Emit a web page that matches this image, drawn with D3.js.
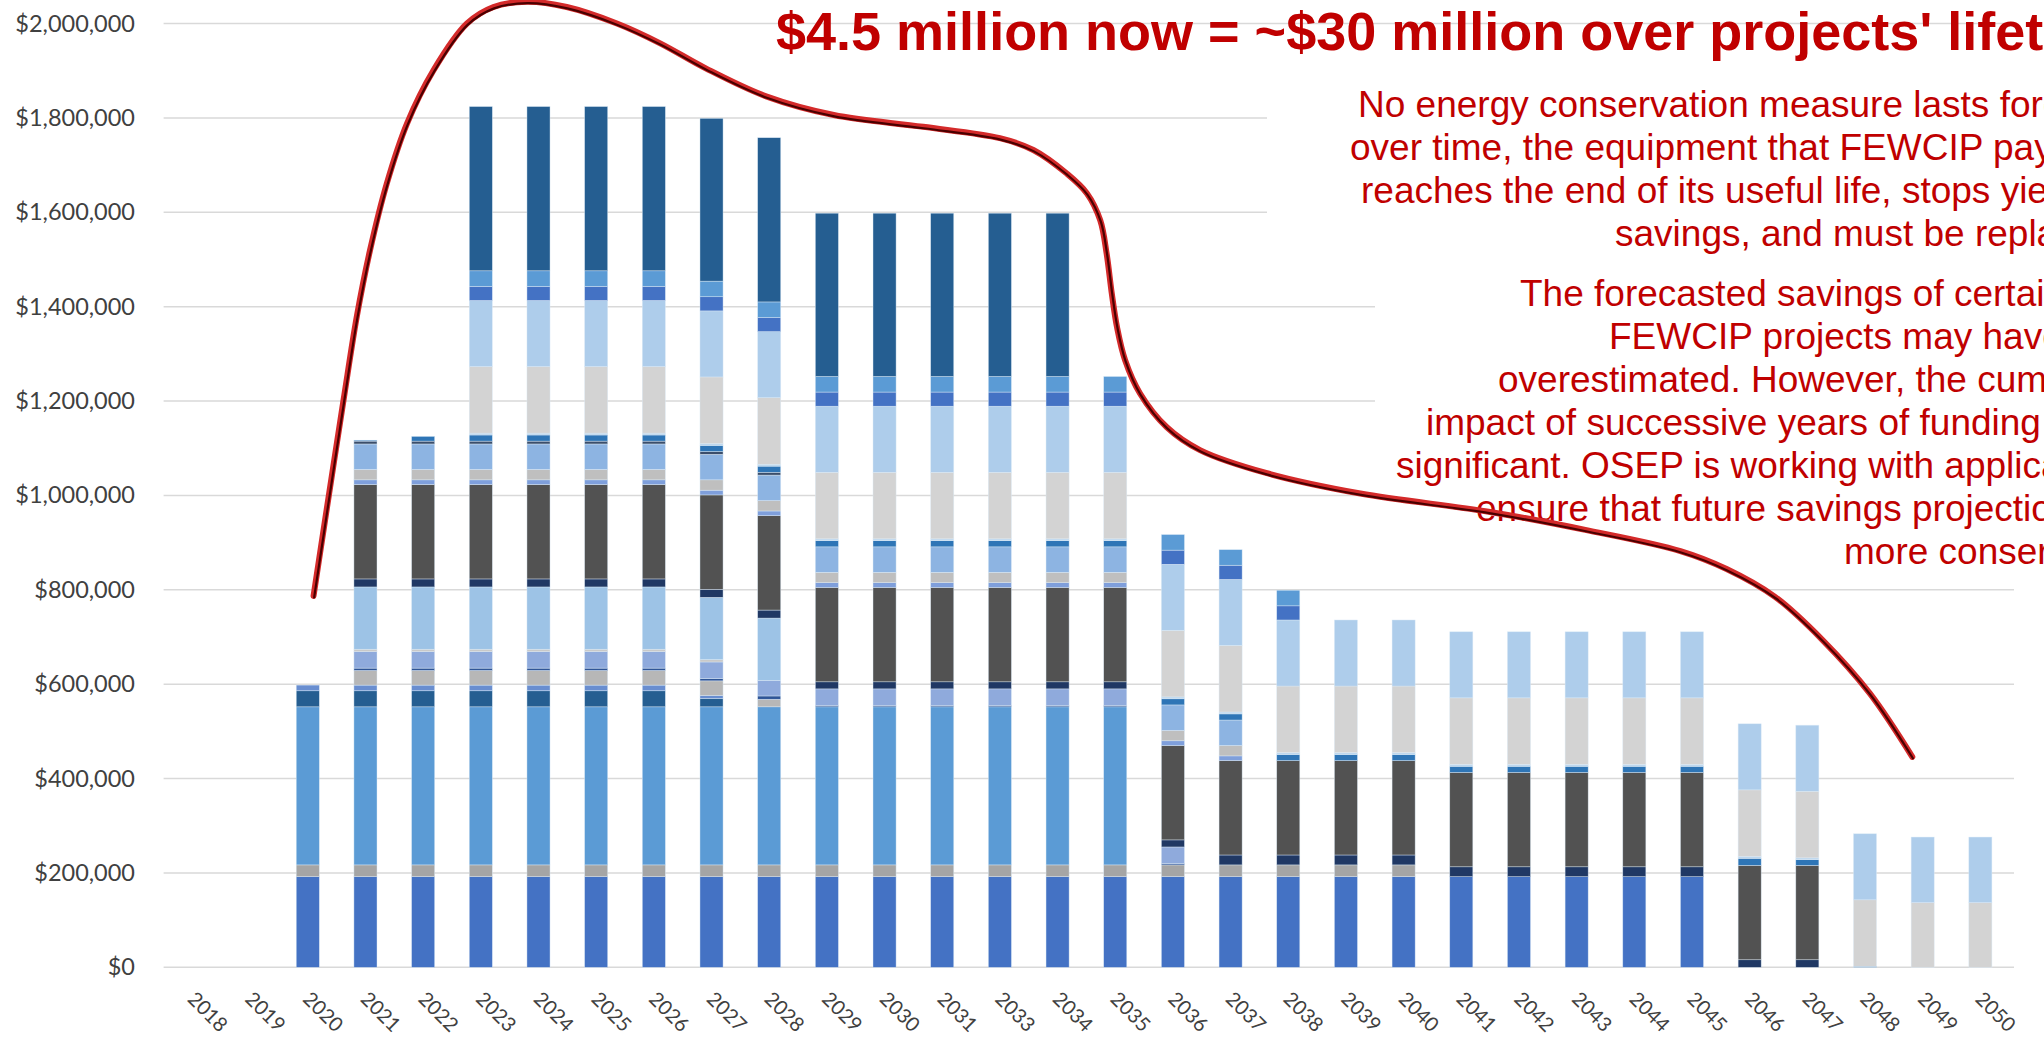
<!DOCTYPE html>
<html><head><meta charset="utf-8">
<script src="https://cdn.jsdelivr.net/npm/d3@7/dist/d3.min.js"></script>
<style>html,body{margin:0;padding:0;background:#fff;overflow:hidden}</style>
</head><body><svg id="chart" width="2044" height="1037"></svg>
<script>
// ---------- DATA ----------
const years = ["2018","2019","2020","2021","2022","2023","2024","2025","2026","2027","2028","2029","2030","2031","2033","2034","2035","2036","2037","2038","2039","2040","2041","2042","2043","2044","2045","2046","2047","2048","2049","2050"];
const yTicks = [0,200000,400000,600000,800000,1000000,1200000,1400000,1600000,1800000,2000000];

//            2018 2019 2020   2021   2022   2023   2024   2025   2026   2027   2028   2029   2030   2031   2033   2034   2035   2036   2037   2038   2039   2040   2041   2042   2043   2044   2045   2046   2047   2048   2049   2050
const seg01 = [0,0,192000,192000,192000,192000,192000,192000,192000,192000,192000,192000,192000,192000,192000,192000,192000,192000,192000,192000,192000,192000,192000,192000,192000,192000,192000,0,0,0,0,0];
const seg02 = [0,0,25000,25000,25000,25000,25000,25000,25000,25000,25000,25000,25000,25000,25000,25000,25000,25000,25000,25000,25000,25000,0,0,0,0,0,0,0,0,0,0];
const seg03 = [0,0,335000,335000,335000,335000,335000,335000,335000,335000,335000,335000,335000,335000,335000,335000,335000,0,0,0,0,0,0,0,0,0,0,0,0,0,0,0];
const seg04 = [0,0,34000,34000,34000,34000,34000,34000,34000,18000,0,0,0,0,0,0,0,0,0,0,0,0,0,0,0,0,0,0,0,0,0,0];
const seg05 = [0,0,12000,12000,12000,12000,12000,12000,12000,6000,0,0,0,0,0,0,0,0,0,0,0,0,0,0,0,0,0,0,0,0,0,0];
const seg06 = [0,0,0,31000,31000,31000,31000,31000,31000,31000,16000,0,0,0,0,0,0,0,0,0,0,0,0,0,0,0,0,0,0,0,0,0];
const seg07 = [0,0,0,5000,5000,5000,5000,5000,5000,5000,7000,3000,3000,3000,3000,3000,3000,3000,0,0,0,0,0,0,0,0,0,0,0,0,0,0];
const seg08 = [0,0,0,35000,35000,35000,35000,35000,35000,35000,33000,35000,35000,35000,35000,35000,35000,35000,0,0,0,0,0,0,0,0,0,0,0,0,0,0];
const seg09 = [0,0,0,5000,5000,5000,5000,5000,5000,5000,0,0,0,0,0,0,0,0,0,0,0,0,0,0,0,0,0,0,0,0,0,0];
const seg10 = [0,0,0,132000,132000,132000,132000,132000,132000,132000,132000,0,0,0,0,0,0,0,0,0,0,0,0,0,0,0,0,0,0,0,0,0];
const seg11 = [0,0,0,17000,17000,17000,17000,17000,17000,17000,17000,15000,15000,15000,15000,15000,15000,15000,21000,21000,21000,21000,21000,21000,21000,21000,21000,16000,16000,0,0,0];
const seg12 = [0,0,0,200000,200000,200000,200000,200000,200000,200000,200000,200000,200000,200000,200000,200000,200000,200000,200000,200000,200000,200000,200000,200000,200000,200000,200000,200000,200000,0,0,0];
const seg13 = [0,0,0,10000,10000,10000,10000,10000,10000,10000,10000,10000,10000,10000,10000,10000,10000,10000,10000,0,0,0,0,0,0,0,0,0,0,0,0,0];
const seg14 = [0,0,0,22000,22000,22000,22000,22000,22000,22000,22000,22000,22000,22000,22000,22000,22000,22000,22000,0,0,0,0,0,0,0,0,0,0,0,0,0];
const seg15 = [0,0,0,54000,54000,54000,54000,54000,54000,54000,54000,54000,54000,54000,54000,54000,54000,54000,54000,0,0,0,0,0,0,0,0,0,0,0,0,0];
const seg16 = [0,0,0,6000,6000,6000,6000,6000,6000,6000,6000,0,0,0,0,0,0,0,0,0,0,0,0,0,0,0,0,0,0,0,0,0];
const seg17 = [0,0,0,2000,10000,13000,13000,13000,13000,13000,13000,13000,13000,13000,13000,13000,13000,13000,13000,13000,13000,13000,13000,13000,13000,13000,13000,15000,12000,2000,0,0];
const seg18 = [0,0,0,0,0,4000,4000,4000,4000,4000,4000,4000,4000,4000,4000,4000,4000,4000,4000,4000,4000,4000,4000,4000,4000,4000,4000,4000,4000,0,0,0];
const seg19 = [0,0,0,0,0,141000,141000,141000,141000,141000,141000,141000,141000,141000,141000,141000,141000,141000,141000,141000,141000,141000,141000,141000,141000,141000,141000,141000,141000,141000,137000,137000];
const seg20 = [0,0,0,0,0,140000,140000,140000,140000,140000,140000,140000,140000,140000,140000,140000,140000,140000,140000,140000,140000,140000,140000,140000,140000,140000,140000,140000,140000,140000,139000,139000];
const seg21 = [0,0,0,0,0,30000,30000,30000,30000,30000,30000,30000,30000,30000,30000,30000,30000,30000,30000,30000,0,0,0,0,0,0,0,0,0,0,0,0];
const seg22 = [0,0,0,0,0,33000,33000,33000,33000,33000,33000,33000,33000,33000,33000,33000,33000,33000,33000,33000,0,0,0,0,0,0,0,0,0,0,0,0];
const seg23 = [0,0,0,0,0,348000,348000,348000,348000,345000,348000,346000,346000,346000,346000,346000,0,0,0,0,0,0,0,0,0,0,0,0,0,0,0,0];

const segments = [seg01,seg02,seg03,seg04,seg05,seg06,seg07,seg08,seg09,seg10,seg11,seg12,seg13,seg14,seg15,seg16,seg17,seg18,seg19,seg20,seg21,seg22,seg23];
const segColors = ["#4472C4","#A5A5A5","#5B9BD5","#255E91","#698ED0","#B7B7B7","#2F5597","#8FAADC","#C9C9C9","#9DC3E6","#203864","#525252","#7F9FDB","#BFBFBF","#8DB4E2","#3B4E6B","#2E75B6","#BDD7EE","#D3D3D3","#AECDEB","#4472C4","#5B9BD5","#255E91"];

// hand-drawn annotation curve (category position, value)
const trendPos = [2.10,2.30,2.62,2.85,3.08,3.37,3.72,4.18,4.76,5.22,5.80,6.49,7.36,8.11,8.9,9.96,11.12,12.67,14.0,14.58,15.16,15.51,15.74,15.85,15.94,16.03,16.17,16.43,16.89,17.47,18.63,20.25,22.5,24.15,25.8,26.6,27.44,28.26,29.08,29.82];
const trendVal = [787000,948000,1202000,1379000,1520000,1661000,1788000,1901000,2000000,2035000,2046000,2035000,2000000,1958000,1905000,1845000,1806000,1781000,1757000,1732000,1682000,1640000,1583000,1513000,1428000,1357000,1287000,1216000,1145000,1096000,1047000,1004000,965000,927000,882000,844000,785000,694000,581000,446000];

const titleText = "$4.5 million now = ~$30 million over projects' lifetime";
const para1 = ["No energy conservation measure lasts forever;","over time, the equipment that FEWCIP pays for","reaches the end of its useful life, stops yielding","savings, and must be replaced."];
const para2 = ["The forecasted savings of certain","FEWCIP projects may have been","overestimated. However, the cumulative","impact of successive years of funding is","significant. OSEP is working with applicants to","ensure that future savings projections are","more conservative."];

// ---------- LAYOUT ----------
const svg = d3.select("#chart");
const plot = {left:163.6, right:2009.2, top:23.5, bottom:967.3};

const x = d3.scaleBand().domain(years).range([plot.left, plot.right]).paddingInner(0.6).paddingOuter(0.3);
const y = d3.scaleLinear().domain([0, 2000000]).range([plot.bottom, plot.top]);

// gridlines
const grid = svg.append("g");
grid.selectAll("line").data(yTicks).join("line")
  .attr("x1", plot.left).attr("x2", 2014)
  .attr("y1", d => y(d)).attr("y2", d => y(d))
  .attr("stroke", "#D9D9D9").attr("stroke-width", 1.5);

// y labels
const yAxis = d3.axisLeft(y).tickValues(yTicks).tickFormat(d3.format("$,")).tickSize(0).tickPadding(0);
const ya = svg.append("g").attr("transform", "translate(135,0)").call(yAxis);
ya.select(".domain").remove();
ya.selectAll("text").attr("font-family", "Lato, 'Liberation Sans', sans-serif").attr("font-size", 23.5).attr("fill", "#404040");

// x labels
const xAxis = d3.axisBottom(x).tickSize(0).tickPadding(0);
const xa = svg.append("g").attr("transform", `translate(0,${plot.bottom})`).call(xAxis);
xa.select(".domain").remove();
xa.selectAll("text")
  .attr("font-family", "Lato, 'Liberation Sans', sans-serif").attr("font-size", 20).attr("fill", "#404040")
  .attr("text-anchor", "start").attr("dy", null).attr("y", 0)
  .attr("transform", "translate(-6,33) rotate(45)");

// stacked bars
const rows = years.map((yr, i) => { const o = {year: yr}; segments.forEach((s, k) => o["k" + k] = s[i]); return o; });
const keys = segments.map((s, k) => "k" + k);
const stacked = d3.stack().keys(keys)(rows);
svg.append("g").selectAll("g").data(stacked).join("g")
  .attr("fill", (d, k) => segColors[k])
  .selectAll("rect").data(d => d.filter(v => v[1] - v[0] > 0)).join("rect")
  .attr("x", d => x(d.data.year)).attr("width", x.bandwidth())
  .attr("y", d => y(d[1])).attr("height", d => y(d[0]) - y(d[1]))
  .attr("stroke", "#DDEBF7").attr("stroke-width", 0.6).attr("stroke-opacity", 0.7);

// text boxes (white fill)
svg.append("rect").attr("x", 1267).attr("y", 72).attr("width", 800).attr("height", 196).attr("fill", "#fff");
svg.append("rect").attr("x", 1375).attr("y", 268).attr("width", 700).attr("height", 314).attr("fill", "#fff");

const red = "#C00000";
svg.append("text").attr("x", 776).attr("y", 49.5)
  .attr("font-family", "'Liberation Sans', Arial, sans-serif").attr("font-weight", "bold").attr("font-size", 54)
  .attr("fill", red).text(titleText);

const p1x = [1358,1350,1361,1615];
const p2x = [1520,1609,1498,1426,1396,1476,1844];
const tf = "'Liberation Sans', Arial, sans-serif";
svg.append("g").selectAll("text").data(para1).join("text")
  .attr("x", (d, i) => p1x[i]).attr("y", (d, i) => 117 + i * 43)
  .attr("font-family", tf).attr("font-size", 37).attr("fill", red).text(d => d);
svg.append("g").selectAll("text").data(para2).join("text")
  .attr("x", (d, i) => p2x[i]).attr("y", (d, i) => 306 + i * 43)
  .attr("font-family", tf).attr("font-size", 37).attr("fill", red).text(d => d);

// annotation curve
const x0 = x(years[0]) + x.bandwidth() / 2;
const stepX = x.step();
const line = d3.line().x(d => x0 + d[0] * stepX).y(d => y(d[1])).curve(d3.curveCatmullRom.alpha(0.5));
const pts = trendPos.map((p, i) => [p, trendVal[i]]);
svg.append("path").attr("d", line(pts)).attr("fill", "none").attr("stroke", "#D42A2A").attr("stroke-width", 6).attr("stroke-linecap", "round");
svg.append("path").attr("d", line(pts)).attr("fill", "none").attr("stroke", "#4A0000").attr("stroke-width", 2.2)
  .attr("transform", "translate(0.6,1.4)").attr("stroke-linecap", "round");
</script></body></html>
